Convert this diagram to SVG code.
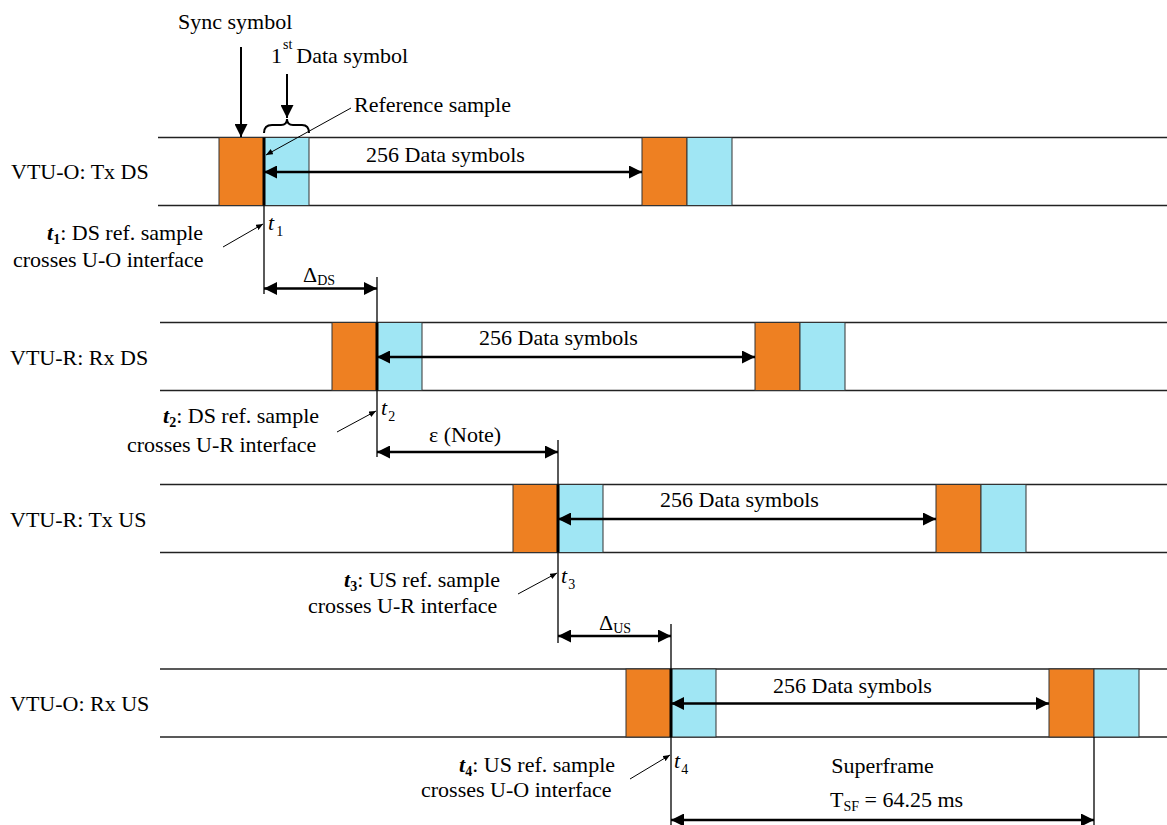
<svg xmlns="http://www.w3.org/2000/svg" width="1167" height="825" viewBox="0 0 1167 825">
<style>
text{font-family:"Liberation Serif","DejaVu Serif","Times New Roman",serif;font-size:22px;fill:#000}
.s{font-size:14px}
.row{stroke:#222;stroke-width:1.6}
.sync{fill:#EE8022;stroke:#333;stroke-width:1}
.data{fill:#A0E6F4;stroke:#333;stroke-width:1}
.ref{stroke:#000;stroke-width:3}
.thin{stroke:#000;stroke-width:1.3;fill:none}
.arr{stroke:#000;stroke-width:2.5;fill:none;marker-start:url(#ah);marker-end:url(#ah)}
.one{stroke:#000;stroke-width:2;fill:none;marker-end:url(#ah)}
.lead{stroke:#000;stroke-width:1;fill:none;marker-end:url(#sm)}
</style>
<defs>
<marker id="ah" viewBox="0 0 13 13" refX="13" refY="6.5" markerWidth="13" markerHeight="13" markerUnits="userSpaceOnUse" orient="auto-start-reverse"><path d="M0,0 L13,6.5 L0,13 z" fill="#000"/></marker>
<marker id="sm" viewBox="0 0 7 6" refX="7" refY="3" markerWidth="7" markerHeight="6" markerUnits="userSpaceOnUse" orient="auto"><path d="M0,0 L7,3 L0,6 z" fill="#000"/></marker>
</defs>
<rect width="1167" height="825" fill="#fff"/>

<g id="row1">
<line class="row" x1="158" y1="137.5" x2="1167" y2="137.5"/>
<line class="row" x1="158" y1="205.5" x2="1167" y2="205.5"/>
<rect class="sync" x="219" y="137.5" width="45" height="68"/>
<rect class="data" x="264" y="137.5" width="45" height="68"/>
<rect class="sync" x="642" y="137.5" width="45" height="68"/>
<rect class="data" x="687" y="137.5" width="45" height="68"/>
<line class="ref" x1="264" y1="137.5" x2="264" y2="205.5"/>
<text x="11" y="179">VTU-O: Tx DS</text>
<text x="366" y="162">256 Data symbols</text>
</g>

<g id="row2">
<line class="row" x1="160" y1="322.5" x2="1167" y2="322.5"/>
<line class="row" x1="160" y1="390.5" x2="1167" y2="390.5"/>
<rect class="sync" x="332" y="322.5" width="45" height="68"/>
<rect class="data" x="377" y="322.5" width="45" height="68"/>
<rect class="sync" x="755" y="322.5" width="45" height="68"/>
<rect class="data" x="800" y="322.5" width="45" height="68"/>
<line class="ref" x1="377" y1="322.5" x2="377" y2="390.5"/>
<text x="10" y="365">VTU-R: Rx DS</text>
<text x="479" y="345">256 Data symbols</text>
</g>

<g id="row3">
<line class="row" x1="160" y1="484.5" x2="1167" y2="484.5"/>
<line class="row" x1="160" y1="552.5" x2="1167" y2="552.5"/>
<rect class="sync" x="513" y="484.5" width="45" height="68"/>
<rect class="data" x="558" y="484.5" width="45" height="68"/>
<rect class="sync" x="936" y="484.5" width="45" height="68"/>
<rect class="data" x="981" y="484.5" width="45" height="68"/>
<line class="ref" x1="558" y1="484.5" x2="558" y2="552.5"/>
<text x="10" y="527">VTU-R: Tx US</text>
<text x="660" y="507">256 Data symbols</text>
</g>

<g id="row4">
<line class="row" x1="160" y1="669" x2="1167" y2="669"/>
<line class="row" x1="160" y1="737" x2="1167" y2="737"/>
<rect class="sync" x="626" y="669" width="45" height="68"/>
<rect class="data" x="671" y="669" width="45" height="68"/>
<rect class="sync" x="1049" y="669" width="45" height="68"/>
<rect class="data" x="1094" y="669" width="45" height="68"/>
<line class="ref" x1="671" y1="669" x2="671" y2="737"/>
<text x="10" y="711">VTU-O: Rx US</text>
<text x="773" y="693">256 Data symbols</text>
</g>

<g id="top-labels">
<text x="178" y="29">Sync symbol</text>
<text x="271" y="63">1<tspan class="s" dx="1" dy="-14">st</tspan><tspan dx="4" dy="14">Data symbol</tspan></text>
<text x="354" y="112">Reference sample</text>
<path d="M264,133 Q264,125 272,125 L281,125 Q287,125 287,119 Q287,125 293,125 L302,125 Q309,125 309,133" stroke="#000" stroke-width="2" fill="none"/>
</g>

<g id="time-labels">
<text x="268" y="230" font-style="italic">t<tspan class="s" font-style="normal" dx="2" dy="6">1</tspan></text>
<text x="381" y="415" font-style="italic">t<tspan class="s" font-style="normal" dx="1" dy="6">2</tspan></text>
<text x="561" y="583" font-style="italic">t<tspan class="s" font-style="normal" dx="1" dy="6">3</tspan></text>
<text x="674" y="768" font-style="italic">t<tspan class="s" font-style="normal" dx="1" dy="6">4</tspan></text>

<text x="47" y="240"><tspan font-weight="bold" font-style="italic">t</tspan><tspan class="s" font-weight="bold" dy="4">1</tspan><tspan dy="-4">: DS ref. sample</tspan></text>
<text x="13" y="267">crosses U-O interface</text>
<text x="163" y="423"><tspan font-weight="bold" font-style="italic">t</tspan><tspan class="s" font-weight="bold" dy="4">2</tspan><tspan dy="-4">: DS ref. sample</tspan></text>
<text x="127" y="452">crosses U-R interface</text>
<text x="344" y="587"><tspan font-weight="bold" font-style="italic">t</tspan><tspan class="s" font-weight="bold" dy="4">3</tspan><tspan dy="-4">: US ref. sample</tspan></text>
<text x="308" y="613">crosses U-R interface</text>
<text x="459" y="772"><tspan font-weight="bold" font-style="italic">t</tspan><tspan class="s" font-weight="bold" dy="4">4</tspan><tspan dy="-4">: US ref. sample</tspan></text>
<text x="421" y="797">crosses U-O interface</text>

<text x="303" y="282">Δ<tspan class="s" dy="3">DS</tspan></text>
<text x="429" y="442">ε (Note)</text>
<text x="599" y="630">Δ<tspan class="s" dy="3">US</tspan></text>
<text x="882.5" y="773" text-anchor="middle">Superframe</text>
<text x="830" y="807">T<tspan class="s" dy="4">SF</tspan><tspan dy="-4"> = 64.25 ms</tspan></text>
</g>

<g id="connectors">
<line class="one" x1="241" y1="47" x2="241" y2="137"/>
<line class="one" x1="287" y1="74" x2="287" y2="118"/>
<line class="lead" x1="351" y1="108" x2="266" y2="155"/>

<line class="arr" x1="264" y1="172" x2="642" y2="172"/>
<line class="arr" x1="377" y1="357" x2="755" y2="357"/>
<line class="arr" x1="558" y1="519" x2="936" y2="519"/>
<line class="arr" x1="671" y1="703.5" x2="1049" y2="703.5"/>

<line class="thin" x1="264" y1="205.5" x2="264" y2="294"/>
<line class="thin" x1="377" y1="277" x2="377" y2="322.5"/>
<line class="thin" x1="377" y1="390.5" x2="377" y2="457"/>
<line class="thin" x1="558" y1="440" x2="558" y2="484.5"/>
<line class="thin" x1="558" y1="552.5" x2="558" y2="643"/>
<line class="thin" x1="671" y1="624" x2="671" y2="669"/>
<line class="thin" x1="671" y1="737" x2="671" y2="825"/>
<line class="thin" x1="1094" y1="737" x2="1094" y2="825"/>

<line class="arr" x1="264" y1="288.5" x2="377" y2="288.5"/>
<line class="arr" x1="377" y1="452" x2="558" y2="452"/>
<line class="arr" x1="558" y1="636" x2="671" y2="636"/>
<line class="arr" x1="671" y1="820" x2="1094" y2="820"/>

<line class="lead" x1="223" y1="247" x2="263" y2="224"/>
<line class="lead" x1="337" y1="432" x2="376" y2="411"/>
<line class="lead" x1="518" y1="594" x2="557" y2="573"/>
<line class="lead" x1="630" y1="779" x2="670" y2="755"/>
</g>
</svg>
